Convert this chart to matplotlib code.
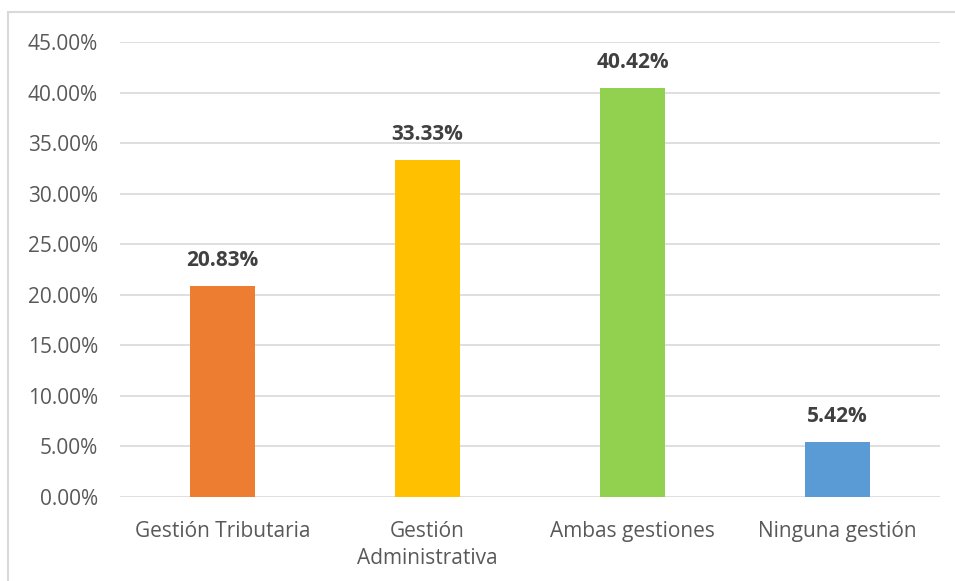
import matplotlib
matplotlib.use("Agg")
import matplotlib.pyplot as plt
from matplotlib.patches import Rectangle
from matplotlib.ticker import MultipleLocator, FuncFormatter

categories = ["Gestión Tributaria", "Gestión\nAdministrativa", "Ambas gestiones", "Ninguna gestión"]
values = [20.83, 33.33, 40.42, 5.42]
colors = ["#ED7D31", "#FFC000", "#92D050", "#5B9BD5"]

plt.rcParams['font.family'] = ['Open Sans', 'DejaVu Sans']

fig = plt.figure(figsize=(9.55, 5.81), dpi=100)
ax = fig.add_axes([0.1257, 0.1446, 0.8586, 0.7831])

x = list(range(len(categories)))
ax.bar(x, values, width=0.317, color=colors, zorder=3)
for xi, v in zip(x, values):
    ax.text(xi, v + 1.5, f"{v:.2f}%", ha="center", va="bottom", fontsize=15,
            fontweight="bold", color="#404040")

ax.set_xlim(-0.5, 3.5)
ax.set_ylim(0, 45)
ax.yaxis.set_major_locator(MultipleLocator(5))
ax.yaxis.set_major_formatter(FuncFormatter(lambda v, p: f"{v:.2f}%"))
ax.grid(axis="y", color="#D9D9D9", linewidth=1.2, zorder=0)
ax.set_xticks(x)
ax.set_xticklabels(categories, fontsize=15, color="#595959", linespacing=1.4)
ax.tick_params(axis="y", labelsize=15, labelcolor="#595959", length=0, pad=16)
ax.tick_params(axis="x", length=0, pad=17)
for s in ax.spines.values():
    s.set_visible(False)

fig.patches.append(Rectangle((8/955, -0.05), 1.1, 1.05 - 12/581, transform=fig.transFigure,
                             fill=False, edgecolor="#D9D9D9", linewidth=1.5))

fig.savefig("out.png", dpi=100)
